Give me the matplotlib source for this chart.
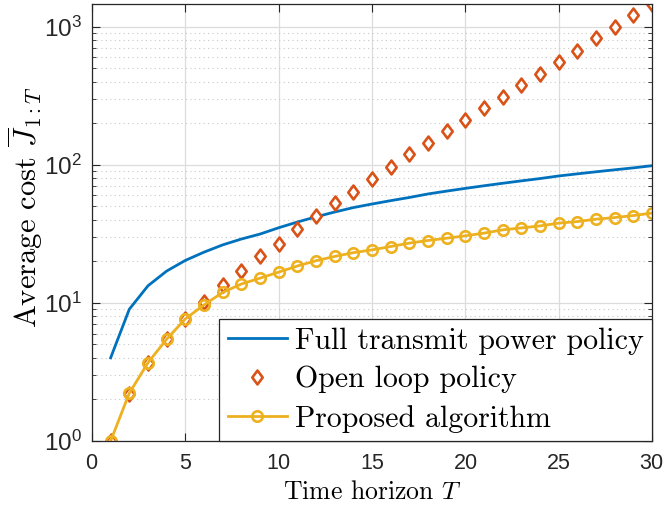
import numpy as np
import matplotlib
matplotlib.use("Agg")
import matplotlib.pyplot as plt
from matplotlib.path import Path
from matplotlib.ticker import FixedLocator, FuncFormatter, LogLocator, NullFormatter

# data
horizon = list(range(1, 31))
full_power = [4.0, 9.0, 13.3, 17.0, 20.3, 23.3, 26.3, 29.0, 31.5, 35.0,
              38.5, 42.0, 45.5, 49.0, 52.0, 55.0, 58.0, 61.5, 64.5, 67.5,
              70.5, 73.5, 76.5, 79.5, 83.0, 86.0, 89.0, 92.0, 95.0, 98.5]
open_loop = [1.0, 2.2, 3.7, 5.5, 7.7, 10.2, 13.5, 17.1, 21.8, 26.8,
             34.2, 42.3, 52.7, 64.0, 78.8, 97.0, 120.0, 144.0, 177.0, 212.0,
             257.0, 309.0, 380.0, 456.0, 555.0, 670.0, 826.0, 995.0, 1222.0, 1460.0]
proposed = [1.0, 2.22, 3.69, 5.46, 7.66, 9.67, 11.9, 13.7, 15.1, 16.7,
            18.5, 20.2, 21.7, 23.1, 24.2, 25.6, 27.1, 28.3, 29.4, 30.6,
            32.0, 33.8, 34.9, 36.1, 37.8, 38.8, 40.4, 41.5, 42.9, 44.7]
series_labels = ["Full transmit power policy", "Open loop policy", "Proposed algorithm"]

plt.rcParams["font.family"] = "serif"
plt.rcParams["font.serif"] = ["cmr10"]
plt.rcParams["mathtext.fontset"] = "custom"
plt.rcParams["mathtext.rm"] = "cmr10"
plt.rcParams["mathtext.it"] = "cmmi10"
plt.rcParams["mathtext.sf"] = "Liberation Sans"
plt.rcParams["axes.formatter.use_mathtext"] = True

# matlab-like diamond, a bit taller than wide
diamond = Path([(0, 1), (0.75, 0), (0, -1), (-0.75, 0), (0, 1)],
               [Path.MOVETO, Path.LINETO, Path.LINETO, Path.LINETO, Path.CLOSEPOLY])

fig = plt.figure(figsize=(6.65, 5.07), dpi=100)
ax = fig.add_axes([0.1383, 0.1302, 0.8422, 0.8619])

ax.plot(horizon, full_power, color="#0072BD", lw=2.0, label=series_labels[0])
ax.plot(horizon, open_loop, ls="none", marker=diamond, ms=10, mfc="white",
        mec="#D95319", mew=1.9, label=series_labels[1])
ax.plot(horizon, proposed, color="#EDB120", lw=2.0, marker="o", ms=7.5,
        mfc="none", mec="#EDB120", mew=1.9, label=series_labels[2])

ax.set_yscale("log")
ax.set_xlim(0, 30)
ax.set_ylim(1, 1460)

ax.xaxis.set_major_locator(FixedLocator([0, 5, 10, 15, 20, 25, 30]))
ax.yaxis.set_major_locator(FixedLocator([1, 10, 100, 1000]))
ax.yaxis.set_minor_locator(LogLocator(base=10, subs=np.arange(2, 10)))
ax.yaxis.set_minor_formatter(NullFormatter())
ax.yaxis.set_major_formatter(FuncFormatter(
    lambda v, p: r"$\mathsf{10^{%d}}$" % int(round(np.log10(v)))))

ax.grid(True, which="major", color="#dcdcdc", lw=0.9)
ax.grid(True, which="minor", axis="y", color="#c8c8c8", lw=0.8, ls=(0, (1, 3)))
ax.set_axisbelow(True)

ax.tick_params(which="both", direction="in", top=True, right=True,
               colors="#262626", labelfontfamily="Liberation Sans")
ax.tick_params(axis="x", labelsize=15.5, pad=9)
ax.tick_params(axis="y", labelsize=17.5, pad=7)
ax.tick_params(which="major", length=6)
ax.tick_params(which="minor", length=3)
for sp in ax.spines.values():
    sp.set_color("#262626")
    sp.set_linewidth(0.9)

ax.set_xlabel(r"Time horizon $T$", fontsize=18.5, labelpad=4)
ax.set_ylabel(r"Average cost $\overline{J}_{1:T}$", fontsize=22)
ax.yaxis.set_label_coords(-0.083, 0.535)

leg = ax.legend(loc="lower right", borderaxespad=0, fontsize=21.5,
                fancybox=False, framealpha=1, edgecolor="#262626",
                handlelength=2.0, handletextpad=0.25, labelspacing=0.38,
                borderpad=0.28)
leg.get_frame().set_linewidth(0.9)

fig.savefig("out.png", dpi=100)
